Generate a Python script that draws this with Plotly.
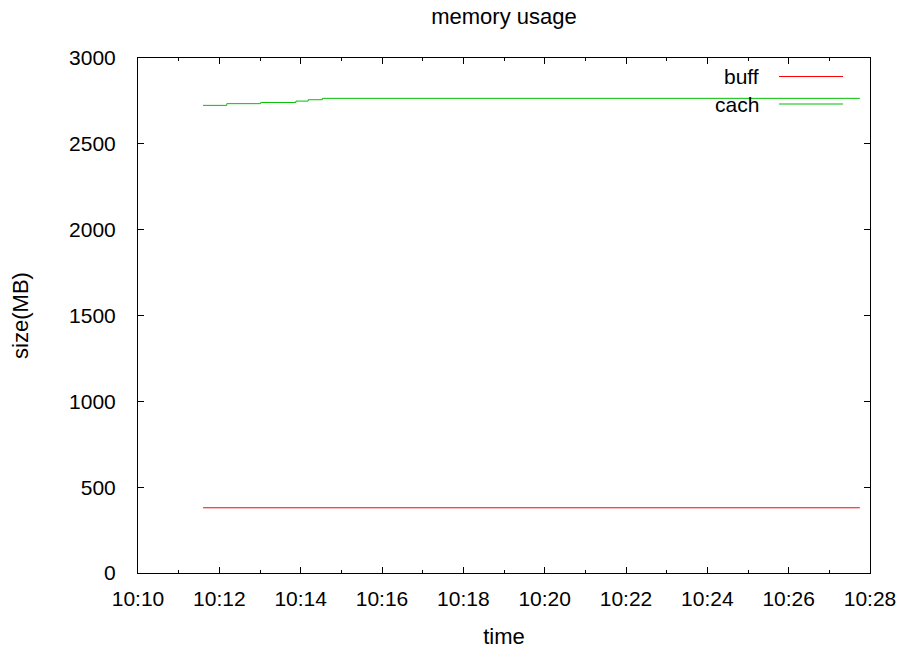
import plotly.graph_objects as go

day = "2013-01-01 "
buff_t = ["10:11:36", "10:27:45"]
buff_v = [380, 380]
cach_t = ["10:11:36", "10:12:11", "10:13:01", "10:13:53", "10:14:11", "10:14:32", "10:27:45"]
cach_v = [2724, 2734, 2741, 2749, 2757, 2765, 2765]

x_ticks = ["10:10", "10:12", "10:14", "10:16", "10:18", "10:20", "10:22", "10:24", "10:26", "10:28"]
y_ticks = [0, 500, 1000, 1500, 2000, 2500, 3000]

font = "Liberation Sans, Arial, sans-serif"
fs = 21
fst = 22

fig = go.Figure()
fig.add_trace(go.Scatter(x=[day + t for t in buff_t], y=buff_v, mode="lines",
                         line=dict(color="#ff0000", width=1), line_shape="hv", name="buff"))
fig.add_trace(go.Scatter(x=[day + t for t in cach_t], y=cach_v, mode="lines",
                         line=dict(color="#00c000", width=1), line_shape="hv", name="cach"))

# gnuplot-style legend (text right-aligned, sample to the right)
for i, (name, col) in enumerate([("buff", "#ff0000"), ("cach", "#00c000")]):
    yy = 1 - (18.5 + 27.5 * i) / 515
    fig.add_annotation(xref="paper", yref="paper", x=(761 - 138) / 732, y=yy, text=name,
                       showarrow=False, xanchor="right", yanchor="middle",
                       font=dict(family=font, size=fs, color="#000"))
    fig.add_shape(type="line", xref="paper", yref="paper",
                  x0=(779 - 138) / 732, x1=(843 - 138) / 732, y0=yy, y1=yy,
                  line=dict(color=col, width=1))

fig.update_layout(
    width=899, height=649,
    margin=dict(l=138, r=29, t=58, b=76),
    paper_bgcolor="white", plot_bgcolor="white",
    showlegend=False,
    font=dict(family=font, size=fs, color="#000"),
    title=dict(text="memory usage", x=(138 + 870) / 2 / 899, xanchor="center",
               y=1 - 16 / 649, yanchor="middle", font=dict(size=fst)),
)
fig.update_xaxes(
    type="date", range=[day + "10:10", day + "10:28"],
    tickvals=[day + t for t in x_ticks], ticktext=x_ticks,
    ticks="inside", ticklen=6, tickcolor="#000", tickwidth=1,
    minor=dict(dtick=60000, ticks="inside", ticklen=3, tickcolor="#000"),
    showline=True, linecolor="#000", linewidth=1, mirror="allticks",
    showgrid=False, zeroline=False, automargin=False,
    title=dict(text="time", standoff=20, font=dict(size=fst)),
    ticklabelstandoff=7,
    tickfont=dict(size=fs),
)
fig.update_yaxes(
    range=[0, 3000], tickvals=y_ticks,
    ticks="inside", ticklen=6, tickcolor="#000", tickwidth=1,
    showline=True, linecolor="#000", linewidth=1, mirror="allticks",
    showgrid=False, zeroline=False, automargin=False,
    title=dict(text="size(MB)", standoff=34, font=dict(size=fst)),
    ticklabelstandoff=17,
    tickfont=dict(size=fs),
)
fig.write_html("out.html")
